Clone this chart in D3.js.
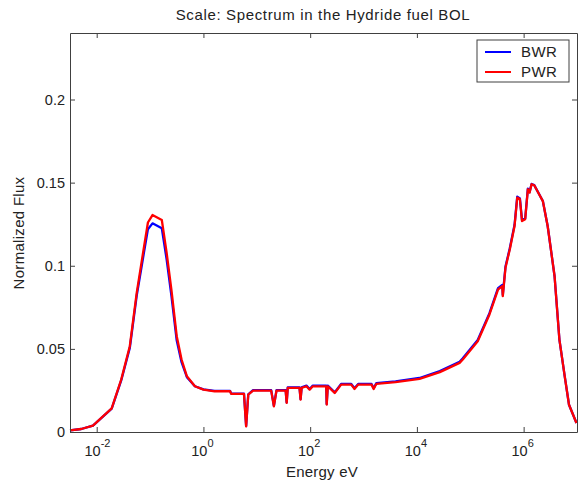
<!DOCTYPE html>
<html>
<head>
<meta charset="utf-8">
<script src="https://cdn.jsdelivr.net/npm/d3@7"></script>
<style>
  body { margin: 0; background: #fff; }
  text { font-family: "Liberation Sans", Arial, sans-serif; fill: #222; }
</style>
</head>
<body>
<div id="chart"></div>
<script>
// energies in eV
var energy = [3.16e-3, 5.13e-3, 8.51e-3, 1.91e-2, 2.88e-2, 4.17e-2, 5.62e-2, 7.41e-2, 9.12e-2, 0.111,
  0.166, 0.204, 0.251, 0.316, 0.389, 0.490, 0.692, 1.0, 1.62, 3.16,
  3.31, 5.75, 6.31, 6.92, 8.51, 18.6, 20.9, 23.4, 34.7, 36.3,
  38.0, 63.1, 66.1, 69.2, 85.1, 97.7, 112, 200, 204, 214,
  288, 380, 589, 676, 794, 1413, 1549, 1738, 3981, 1.12e4,
  2.69e4, 6.31e4, 7.24e4, 1.38e5, 2.29e5, 3.31e5, 3.98e5, 4.07e5, 4.57e5, 5.50e5,
  6.76e5, 7.59e5, 8.51e5, 9.33e5, 1.07e6, 1.20e6, 1.29e6, 1.41e6, 1.58e6, 2.29e6,
  2.82e6, 3.80e6, 4.68e6, 5.89e6, 7.08e6, 9.77e6];

var pwr = [0.0010, 0.0018, 0.0038, 0.0142, 0.0315, 0.0516, 0.0837, 0.108, 0.126, 0.1305,
  0.1275, 0.108, 0.0857, 0.0576, 0.0436, 0.0335, 0.0275, 0.0255, 0.0245, 0.0245,
  0.0229, 0.0229, 0.0034, 0.0225, 0.0249, 0.0249, 0.0154, 0.0249, 0.0249, 0.0175,
  0.0265, 0.0265, 0.0195, 0.0265, 0.0275, 0.0255, 0.0275, 0.0275, 0.0165, 0.0275,
  0.0235, 0.0285, 0.0285, 0.0259, 0.0285, 0.0285, 0.0259, 0.0290, 0.0300, 0.0320,
  0.0360, 0.0416, 0.0436, 0.0546, 0.0707, 0.0857, 0.0877, 0.0817, 0.0988, 0.1098,
  0.1239, 0.1410, 0.1400, 0.1269, 0.1280, 0.1460, 0.1440, 0.1490, 0.1484, 0.1389,
  0.1239, 0.0937, 0.0556, 0.0335, 0.0164, 0.0054];

var bwr = [0.0010, 0.0018, 0.0038, 0.0141, 0.0310, 0.0505, 0.0820, 0.1050, 0.1220, 0.1255,
  0.1225, 0.1040, 0.0820, 0.0550, 0.0420, 0.0330, 0.0275, 0.0256, 0.0247, 0.0247,
  0.0231, 0.0231, 0.0036, 0.0227, 0.0252, 0.0252, 0.0157, 0.0252, 0.0252, 0.0178,
  0.0268, 0.0268, 0.0198, 0.0268, 0.0279, 0.0258, 0.0279, 0.0279, 0.0168, 0.0279,
  0.0238, 0.0289, 0.0289, 0.0263, 0.0289, 0.0289, 0.0263, 0.0294, 0.0304, 0.0325,
  0.0366, 0.0423, 0.0443, 0.0553, 0.0715, 0.0865, 0.0884, 0.0824, 0.0995, 0.1105,
  0.1246, 0.1416, 0.1405, 0.1274, 0.1285, 0.1464, 0.1443, 0.1492, 0.1485, 0.1389,
  0.1239, 0.0937, 0.0556, 0.0335, 0.0164, 0.0054];

var xTicks = [1e-2, 1e0, 1e2, 1e4, 1e6];
var xTickExp = ["-2", "0", "2", "4", "6"];
var yTicks = [0, 0.05, 0.1, 0.15, 0.2];
var seriesNames = ["BWR", "PWR"];
var seriesColors = ["#0000ff", "#ff0000"];

var width = 579, height = 485,
  margin = { top: 33, right: 2, bottom: 53, left: 70 },
  x0 = margin.left, x1 = width - margin.right,
  y0 = height - margin.bottom, y1 = margin.top,
  tickLen = 5, axisColor = "#404040";

var xScale = d3.scaleLog().domain([3.16e-3, 1e7]).range([x0, x1]);
var yScale = d3.scaleLinear().domain([0, 0.24]).range([y0, y1]);

var svg = d3.select("#chart").append("svg")
  .attr("width", width)
  .attr("height", height);

// title and axis labels
svg.append("text")
  .attr("x", 323).attr("y", 20)
  .attr("text-anchor", "middle")
  .style("font-size", "15px")
  .style("letter-spacing", "0.65px")
  .text("Scale: Spectrum in the Hydride fuel BOL");

svg.append("text")
  .attr("x", 322).attr("y", 477)
  .attr("text-anchor", "middle")
  .style("font-size", "15px")
  .style("letter-spacing", "0.2px")
  .text("Energy eV");

svg.append("text")
  .attr("transform", "translate(24,233) rotate(-90)")
  .attr("text-anchor", "middle")
  .style("font-size", "15px")
  .style("letter-spacing", "0.3px")
  .text("Normalized Flux");

// series lines, BWR first so PWR sits on top
var line = d3.line()
  .x(function (d) { return xScale(d[0]); })
  .y(function (d) { return yScale(d[1]); });

var seriesValues = [bwr, pwr];
seriesValues.forEach(function (vals, i) {
  svg.append("path")
    .datum(energy.map(function (e, j) { return [e, vals[j]]; }))
    .attr("fill", "none")
    .attr("stroke", seriesColors[i])
    .attr("stroke-width", 2.3)
    .attr("stroke-linejoin", "round")
    .attr("d", line);
});

// axes: MATLAB style box with inward ticks on all sides
var bottomAxis = d3.axisBottom(xScale).tickValues(xTicks).tickSizeInner(-tickLen).tickSizeOuter(0).tickFormat("");
var topAxis = d3.axisTop(xScale).tickValues(xTicks).tickSizeInner(-tickLen).tickSizeOuter(0).tickFormat("");
var leftAxis = d3.axisLeft(yScale).tickValues(yTicks).tickSizeInner(-tickLen).tickSizeOuter(0).tickFormat("");
var rightAxis = d3.axisRight(yScale).tickValues(yTicks).tickSizeInner(-tickLen).tickSizeOuter(0).tickFormat("");

[[bottomAxis, "translate(0," + y0 + ")"], [topAxis, "translate(0," + y1 + ")"],
 [leftAxis, "translate(" + x0 + ",0)"], [rightAxis, "translate(" + x1 + ",0)"]].forEach(function (a) {
  var g = svg.append("g").attr("transform", a[1]).call(a[0]);
  g.selectAll("path, line").attr("stroke", axisColor);
});

// tick labels
svg.append("g").selectAll("text")
  .data(yTicks)
  .enter().append("text")
  .attr("x", x0 - 5)
  .attr("y", function (d) { return yScale(d) + 5; })
  .attr("text-anchor", "end")
  .style("font-size", "14.5px")
  .text(function (d) { return d3.format("~g")(d); });

var xLab = svg.append("g").selectAll("g")
  .data(xTicks)
  .enter().append("g")
  .attr("transform", function (d) { return "translate(" + xScale(d) + "," + (y0 + 24) + ")"; });

xLab.append("text")
  .attr("x", 4)
  .attr("text-anchor", "end")
  .style("font-size", "14.5px")
  .text("10");
xLab.append("text")
  .attr("x", 4).attr("y", -9)
  .attr("text-anchor", "start")
  .style("font-size", "11px")
  .text(function (d, i) { return xTickExp[i]; });

// legend
var legend = svg.append("g").attr("transform", "translate(477,40)");
legend.append("rect")
  .attr("width", 92).attr("height", 42)
  .attr("fill", "#fff")
  .attr("stroke", axisColor);
seriesNames.forEach(function (name, i) {
  var yy = 12 + i * 20;
  legend.append("line")
    .attr("x1", 8).attr("x2", 34)
    .attr("y1", yy).attr("y2", yy)
    .attr("stroke", seriesColors[i])
    .attr("stroke-width", 2);
  legend.append("text")
    .attr("x", 44).attr("y", yy + 5)
    .style("font-size", "15px")
    .style("letter-spacing", "0.4px")
    .text(name);
});
</script>
</body>
</html>
